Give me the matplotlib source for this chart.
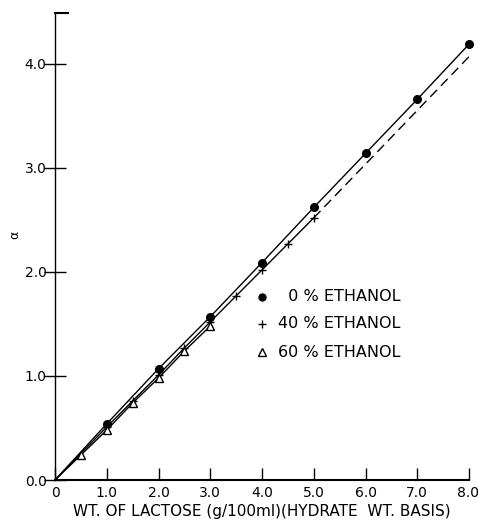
import matplotlib
matplotlib.use("Agg")
import matplotlib.pyplot as plt
import matplotlib.transforms as mtransforms

plt.rcParams['font.family'] = ['DejaVu Sans']

# Data
x_eth0 = [1, 2, 3, 4, 5, 6, 7, 8]
y_eth0 = [0.54, 1.07, 1.57, 2.09, 2.62, 3.14, 3.66, 4.19]

x_eth40 = [1, 1.5, 2, 2.5, 3, 3.5, 4, 4.5, 5]
y_eth40 = [0.51, 0.76, 1.01, 1.27, 1.52, 1.77, 2.02, 2.27, 2.52]
eth40_extrap_x = [5, 8]
eth40_extrap_y = [2.52, 4.07]

x_eth60 = [0.5, 1, 1.5, 2, 2.5, 3]
y_eth60 = [0.24, 0.48, 0.74, 0.98, 1.24, 1.48]

xticks = [0, 1, 2, 3, 4, 5, 6, 7, 8]
xticklabels = ['0', '1.0', '2.0', '3.0', '4.0', '5.0', '6.0', '7.0', '8.0']
yticks = [0, 1, 2, 3, 4]
yticklabels = ['0.0', '1.0', '2.0', '3.0', '4.0']

legend_labels = ['  0 % ETHANOL', '40 % ETHANOL', '60 % ETHANOL']

W, H = 479, 525
fig = plt.figure(figsize=(W/100, H/100), dpi=100)
L, R, T, B = 55, 469, 13, 480
ax = fig.add_axes([L/W, 1 - B/H, (R-L)/W, (B-T)/H])
ax.set_xlim(0, 8.0)
ax.set_ylim(0, 4.49)

# lines
ax.plot([0] + x_eth0, [0] + y_eth0, color='black', lw=1.0)
ax.plot([0] + x_eth40, [0] + y_eth40, color='black', lw=1.0)
ax.plot(eth40_extrap_x, eth40_extrap_y, color='black', lw=1.0, dashes=(7, 4))
ax.plot([0] + x_eth60, [0] + y_eth60, color='black', lw=1.0)

# markers
ax.plot(x_eth0, y_eth0, 'o', color='black', ms=5.5, clip_on=False)
ax.plot(x_eth40, y_eth40, '+', color='black', ms=6, mew=1.0)
ax.plot(x_eth60, y_eth60, '^', mfc='white', mec='black', ms=6, mew=1.0)

for s in ['top', 'right']:
    ax.spines[s].set_visible(False)
ax.spines['left'].set_linewidth(1.0)
ax.spines['bottom'].set_linewidth(1.5)

ax.set_xticks(xticks)
ax.set_xticklabels(xticklabels)
ax.set_yticks(yticks)
ax.set_yticklabels(yticklabels)
ax.tick_params(axis='x', direction='in', length=9, width=1, labelsize=10, pad=4)
ax.tick_params(axis='y', direction='inout', length=16, width=1, labelsize=10, pad=-2)
lab8 = ax.get_xticklabels()[-1]
lab8.set_horizontalalignment('right')
lab8.set_transform(lab8.get_transform() + mtransforms.ScaledTranslation(10/100, 0, fig.dpi_scale_trans))

# small cap at top of y axis
ax.plot([0, 0.25], [4.49, 4.49], color='black', lw=1.5, clip_on=False)

ax.set_xlabel('WT. OF LACTOSE (g/100ml)(HYDRATE  WT. BASIS)', fontsize=11, labelpad=3)
fig.text(15/W, 1 - 235/H, 'α', rotation=90, fontsize=9, ha='center', va='center')

# legend as text
leg_x_marker = 4.0
leg_x_text = 4.3
rows_y = [1.76, 1.50, 1.23]
markers = ['o', '+', '^']
for yy, m, lab in zip(rows_y, markers, legend_labels):
    if m == 'o':
        ax.plot(leg_x_marker, yy, 'o', color='black', ms=5)
    elif m == '+':
        ax.plot(leg_x_marker, yy, '+', color='black', ms=6, mew=1.0)
    else:
        ax.plot(leg_x_marker, yy, '^', mfc='white', mec='black', ms=6, mew=1.0)
    ax.text(leg_x_text, yy, lab, fontsize=11.5, va='center', ha='left')

fig.savefig('out.png', dpi=100)
